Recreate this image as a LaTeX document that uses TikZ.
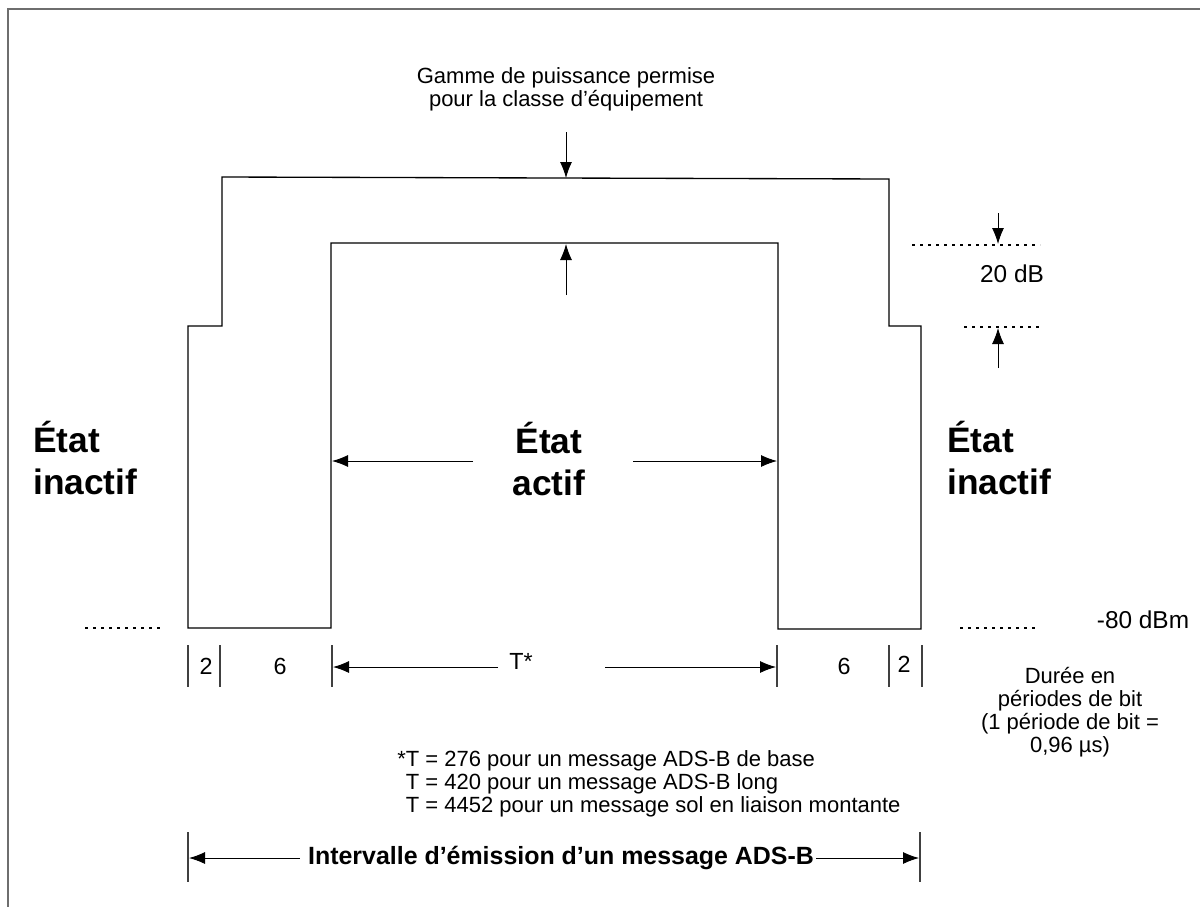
\documentclass[tikz,border=0pt]{standalone}
\usepackage{fontspec}
\setmainfont{Liberation Sans}
\usetikzlibrary{arrows.meta}

\begin{document}
\begin{tikzpicture}[x=0.75pt,y=-0.75pt,
    txt/.style={font=\fontsize{16.5}{17.25}\selectfont, inner sep=0pt, align=center},
    numlabel/.style={font=\fontsize{17.5}{19}\selectfont, inner sep=0pt},
    dblabel/.style={font=\fontsize{18.3}{19}\selectfont, inner sep=0pt},
    statelabel/.style={font=\fontsize{26.5}{31.5}\selectfont\bfseries, inner sep=0pt},
    arr/.style={-{Latex[length=12pt,width=9pt]}, line width=0.7pt},
    tickline/.style={line width=0.8pt, black!75},
    levelline/.style={line width=0.9pt, dash pattern=on 2.2pt off 3.8pt}]
    % Define colors
    \definecolor{framecolor}{RGB}{110,110,110}

    \useasboundingbox (0,0) rectangle (1200,907);

    % Frame (left and top)
    \draw[framecolor, line width=1.5pt] (8,907) -- (8,9) -- (1200,9);

    % Power envelope
    \draw[line width=1pt] (188,628) -- (188,326) -- (222,326) -- (222,177) -- (889,179)
        -- (889,326) -- (921,326) -- (921,629) -- (778,629) -- (778,243)
        -- (331,243) -- (331,628) -- cycle;

    % Power range label
    \node[txt] (gamme) at (566,89) {Gamme de puissance permise\\pour la classe d’équipement};
    \coordinate (gammeA) at (566,132);
    \coordinate (gammeB) at (566,178);
    \coordinate (gammeC) at (566,295);
    \coordinate (gammeD) at (566,244);
    \draw[arr] (gammeA) -- (gammeB);
    \draw[arr] (gammeC) -- (gammeD);

    % 20 dB range
    \draw[levelline] (912,245) -- (1040,245);
    \draw[levelline] (964,327) -- (1040,327);
    \node[dblabel] (range) at (1012,274) {20 dB};
    \coordinate (rangeA) at (998,213);
    \coordinate (rangeB) at (998,244);
    \coordinate (rangeC) at (998,368);
    \coordinate (rangeD) at (998,328);
    \draw[arr] (rangeA) -- (rangeB);
    \draw[arr] (rangeC) -- (rangeD);

    % States
    \node[statelabel, anchor=west, align=left] (idleL) at (33,458) {État\\inactif};
    \node[statelabel, anchor=west, align=left] (idleR) at (947,458) {État\\inactif};
    \node[statelabel, align=center] (active) at (549,459) {État\\actif};
    \coordinate (activeL) at (332,461);
    \coordinate (activeR) at (777,461);
    \coordinate (activeA) at (473,461);
    \coordinate (activeB) at (633,461);
    \draw[arr] (activeA) -- (activeL);
    \draw[arr] (activeB) -- (activeR);

    % -80 dBm level
    \draw[levelline] (85,628) -- (160,628);
    \draw[levelline] (960,628) -- (1037,628);
    \node[dblabel] (floor) at (1143,620) {-80 dBm};

    % Duration ticks
    \foreach \x in {188,220,332,777,889,922}
        \draw[tickline] (\x,645) -- (\x,687);
    \node[numlabel] (durA) at (206,666) {2};
    \node[numlabel] (durB) at (280,666) {6};
    \node[numlabel] (durC) at (844,666) {6};
    \node[numlabel] (durD) at (904,664) {2};
    \node[numlabel] (durT) at (521,661) {T*};
    \coordinate (durL) at (333,667);
    \coordinate (durR) at (776,667);
    \coordinate (durA1) at (498,667);
    \coordinate (durB1) at (605,667);
    \draw[arr] (durA1) -- (durL);
    \draw[arr] (durB1) -- (durR);

    % Unit note
    \node[txt] (unit) at (1070,712) {Durée en\\périodes de bit\\(1 période de bit =\\0,96 µs)};

    % Values of T
    \node[txt, anchor=west, align=left] (tvals) at (397,784)
        {*T = 276 pour un message ADS-B de base\\
         \phantom{*}T = 420 pour un message ADS-B long\\
         \phantom{*}T = 4452 pour un message sol en liaison montante};

    % Transmission interval
    \node[txt, font=\fontsize{18.7}{19}\selectfont\bfseries] (interval) at (561,858)
        {Intervalle d’émission d’un message ADS-B};
    \draw[tickline] (188,832) -- (188,882);
    \draw[tickline] (920,832) -- (920,882);
    \coordinate (intL) at (189,858);
    \coordinate (intR) at (919,858);
    \draw[arr] (interval.west) ++(-8,0) -- (intL);
    \draw[arr] (interval.east) ++(2,0) -- (intR);

\end{tikzpicture}
\end{document}
